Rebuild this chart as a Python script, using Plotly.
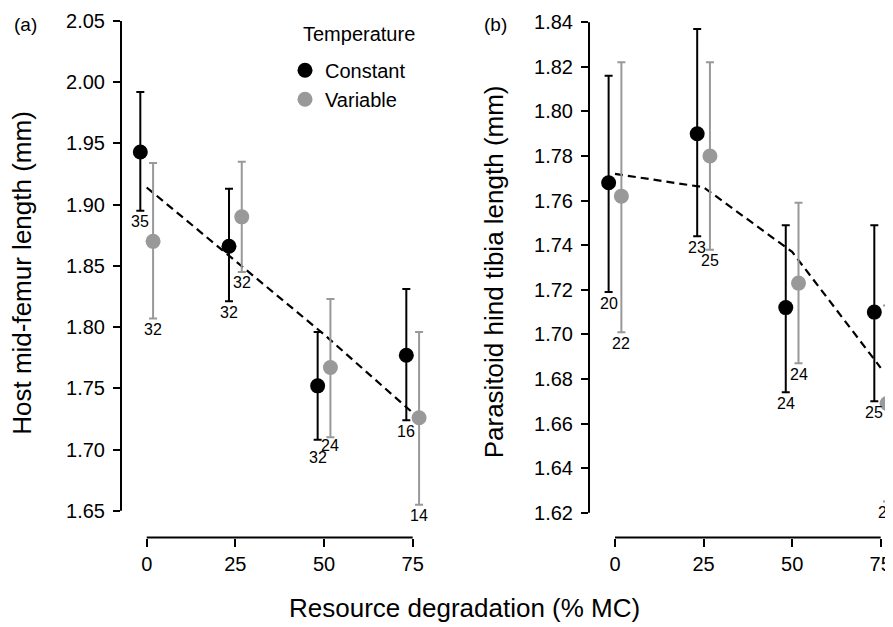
import plotly.graph_objects as go

W, H = 893, 627          # browser window
OFF = 8                  # default <body> margin of the page
W_FIG, H_FIG = W - OFF, H - OFF
FONT = "Liberation Sans, Arial, sans-serif"
BLACK = "#000000"
GREY = "#999999"

# ---------------- data ----------------
levels = [0, 25, 50, 75]
x_tick_labels = ["0", "25", "50", "75"]
groups = ["Constant", "Variable"]

# (a) Host mid-femur length (mm)
a_const_mean = [1.943, 1.866, 1.752, 1.777]
a_const_upper = [1.992, 1.913, 1.796, 1.831]
a_const_lower = [1.895, 1.821, 1.708, 1.724]
a_const_n = [35, 32, 32, 16]
a_var_mean = [1.870, 1.890, 1.767, 1.726]
a_var_upper = [1.934, 1.935, 1.823, 1.796]
a_var_lower = [1.807, 1.845, 1.710, 1.655]
a_var_n = [32, 32, 24, 14]
a_trend = [1.914, 1.854, 1.794, 1.730]
a_yticks = [1.65, 1.70, 1.75, 1.80, 1.85, 1.90, 1.95, 2.00, 2.05]

# (b) Parasitoid hind tibia length (mm)
b_const_mean = [1.768, 1.790, 1.712, 1.710]
b_const_upper = [1.816, 1.837, 1.749, 1.749]
b_const_lower = [1.719, 1.744, 1.674, 1.670]
b_const_n = [20, 23, 24, 25]
b_var_mean = [1.762, 1.780, 1.723, 1.669]
b_var_upper = [1.822, 1.822, 1.759, 1.713]
b_var_lower = [1.701, 1.738, 1.687, 1.625]
b_var_n = [22, 25, 24, 24]
b_trend = [1.772, 1.766, 1.737, 1.685]
b_yticks = [1.62, 1.64, 1.66, 1.68, 1.70, 1.72, 1.74, 1.76, 1.78, 1.80, 1.82, 1.84]

# ---------------- layout geometry (window pixels) ----------------
DODGE = 1.8          # horizontal offset of the two temperature groups
MSIZE = 15
NSHIFT = 11          # n-label centre below the lower whisker (px)
RIGHT_EDGE = OFF + W_FIG


def px_x(p):
    return (p - OFF) / W_FIG


def px_y(p):
    return 1 - (p - OFF) / H_FIG


def axis_range(d0, d1, p_lo, v_lo, p_hi, v_hi):
    k = (v_hi - v_lo) / (p_hi - p_lo)
    return [v_lo + (d0 - p_lo) * k, v_lo + (d1 - p_lo) * k], k


Y_TOP, Y_BOT = 10, 525
XAXIS_Y = 537

panels = [
    dict(xa="x", ya="y", xdom=(121, 430), x0px=146.7, x75px=412.7,
         ylo_px=510, yhi_px=17, yticks=a_yticks,
         cm=a_const_mean, cu=a_const_upper, cl=a_const_lower, cn=a_const_n,
         vm=a_var_mean, vu=a_var_upper, vl=a_var_lower, vn=a_var_n,
         trend=a_trend, legend=True),
    dict(xa="x2", ya="y2", xdom=(589, RIGHT_EDGE), x0px=615.0, x75px=880.7,
         ylo_px=512, yhi_px=18.3, yticks=b_yticks,
         cm=b_const_mean, cu=b_const_upper, cl=b_const_lower, cn=b_const_n,
         vm=b_var_mean, vu=b_var_upper, vl=b_var_lower, vn=b_var_n,
         trend=b_trend, legend=False),
]

fig = go.Figure()
shapes = []
annotations = []
layout_axes = {}

for i, p in enumerate(panels):
    xa, ya = p["xa"], p["ya"]
    d0, d1 = p["xdom"]
    xr, _ = axis_range(d0, d1, p["x0px"], levels[0], p["x75px"], levels[-1])
    yr, kval = axis_range(Y_BOT, Y_TOP, p["ylo_px"], p["yticks"][0],
                          p["yhi_px"], p["yticks"][-1])
    px_per_val = -1.0 / kval

    # trend line
    fig.add_trace(go.Scatter(
        x=levels, y=p["trend"], mode="lines", xaxis=xa, yaxis=ya,
        line=dict(color=BLACK, width=2.2, dash="8px,5px"),
        showlegend=False, hoverinfo="skip"))

    series = [
        (groups[0], p["cm"], p["cu"], p["cl"], p["cn"], BLACK, -DODGE),
        (groups[1], p["vm"], p["vu"], p["vl"], p["vn"], GREY, DODGE),
    ]
    for g, m, u, l, n, col, off in series:
        xs = [lv + off for lv in levels]
        fig.add_trace(go.Scatter(
            x=xs, y=m, mode="markers", name=g, xaxis=xa, yaxis=ya,
            marker=dict(color=col, size=MSIZE, line=dict(width=0)),
            error_y=dict(type="data", symmetric=False,
                         array=[a - b for a, b in zip(u, m)],
                         arrayminus=[b - c for b, c in zip(m, l)],
                         color=col, thickness=2, width=4),
            showlegend=p["legend"], legendgroup=g))

    # sample-size labels under the lower whiskers (nudged apart when they collide)
    for j, lv in enumerate(levels):
        cl, vl = p["cl"][j], p["vl"][j]
        gap_px = abs(cl - vl) * px_per_val
        c_extra, v_extra = (7, -3) if gap_px < 10 else (0, 0)
        for (lo, n, off, extra) in [(cl, p["cn"][j], -DODGE, c_extra),
                                    (vl, p["vn"][j], DODGE, v_extra)]:
            annotations.append(dict(
                text=str(n), x=lv + off, y=lo, xref=xa, yref=ya,
                showarrow=False, xanchor="center", yanchor="middle",
                yshift=-(NSHIFT + extra),
                font=dict(size=16, color=BLACK, family=FONT)))

    xkey = "xaxis" if i == 0 else "xaxis2"
    ykey = "yaxis" if i == 0 else "yaxis2"
    layout_axes[xkey] = dict(
        domain=[px_x(d0), px_x(d1)], range=xr, anchor="free",
        position=px_y(XAXIS_Y), tickmode="array", tickvals=levels,
        ticktext=x_tick_labels, ticks="outside", ticklen=8, tickwidth=2,
        tickcolor=BLACK, showline=False, showgrid=False, zeroline=False,
        ticklabeloverflow="allow",
        tickfont=dict(size=20, color=BLACK, family=FONT))
    layout_axes[ykey] = dict(
        domain=[px_y(Y_BOT), px_y(Y_TOP)], range=yr, anchor=xa,
        tickmode="array", tickvals=p["yticks"],
        ticktext=["%.2f" % v for v in p["yticks"]],
        ticks="outside", ticklen=7, tickwidth=2, tickcolor=BLACK,
        ticklabelstandoff=4, ticklabeloverflow="allow",
        showline=False, showgrid=False, zeroline=False,
        tickfont=dict(size=20, color=BLACK, family=FONT))
    # R-style axis lines spanning only the tick range
    shapes.append(dict(type="line", xref=xa, yref="paper",
                       x0=levels[0], x1=levels[-1],
                       y0=px_y(XAXIS_Y), y1=px_y(XAXIS_Y),
                       line=dict(color=BLACK, width=2)))
    shapes.append(dict(type="line", xref="paper", yref=ya,
                       x0=px_x(d0), x1=px_x(d0),
                       y0=p["yticks"][0], y1=p["yticks"][-1],
                       line=dict(color=BLACK, width=2)))

texts = [
    dict(text="(a)", x=px_x(12), y=px_y(21), xanchor="left", font=dict(size=19)),
    dict(text="(b)", x=px_x(482), y=px_y(21), xanchor="left", font=dict(size=19)),
    dict(text="Temperature", x=px_x(301), y=px_y(30), xanchor="left", font=dict(size=20)),
    dict(text="Host mid-femur length (mm)", x=px_x(22.5), y=px_y(271),
         textangle=-90, font=dict(size=26)),
    dict(text="Parasitoid hind tibia length (mm)", x=px_x(494), y=px_y(270),
         textangle=-90, font=dict(size=26)),
    dict(text="Resource degradation (% MC)", x=px_x(464), y=px_y(608),
         font=dict(size=26)),
]
for a in texts:
    a.setdefault("xref", "paper")
    a.setdefault("yref", "paper")
    a.setdefault("showarrow", False)
    a.setdefault("xanchor", "center")
    a.setdefault("yanchor", "middle")
    a["font"].setdefault("color", BLACK)
    a["font"].setdefault("family", FONT)
annotations.extend(texts)

fig.update_layout(
    width=W_FIG, height=H_FIG,
    margin=dict(l=0, r=0, t=0, b=0, pad=0),
    paper_bgcolor="white", plot_bgcolor="white",
    font=dict(family=FONT, color=BLACK, size=20),
    shapes=shapes, annotations=annotations,
    legend=dict(x=px_x(285), y=px_y(47), xanchor="left", yanchor="top",
                bgcolor="rgba(0,0,0,0)", borderwidth=0,
                font=dict(size=20), itemsizing="trace", tracegroupgap=0),
    **layout_axes,
)

fig.write_html("out.html")
